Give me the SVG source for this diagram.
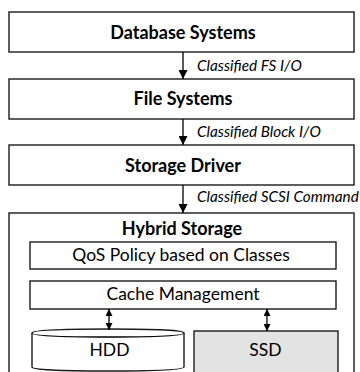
<svg xmlns="http://www.w3.org/2000/svg" width="360" height="372" viewBox="0 0 360 372">
<defs>
<style>
.box{fill:#fff;stroke:#1a1a1a;stroke-width:1.4}
.ssd{fill:#e3e3e3;stroke:#1a1a1a;stroke-width:1.4}
.t{font-family:Lato,"Liberation Sans",sans-serif;font-weight:bold;font-size:18px;fill:#000;text-anchor:middle}
.n{font-family:Lato,"Liberation Sans",sans-serif;font-size:17.5px;fill:#000;text-anchor:middle}
.l{font-family:Lato,"Liberation Sans",sans-serif;font-style:italic;font-size:15.3px;fill:#000}
.c{stroke:#000;stroke-width:1.3;fill:none}
</style>
<marker id="ah" viewBox="0 0 10 10" refX="10" refY="5" markerWidth="9" markerHeight="9" markerUnits="userSpaceOnUse" orient="auto-start-reverse">
<path d="M0,0 L10,5 L0,10 z" fill="#000"/>
</marker>
<marker id="ah2" viewBox="0 0 10 10" refX="10" refY="5" markerWidth="7" markerHeight="7" markerUnits="userSpaceOnUse" orient="auto-start-reverse">
<path d="M0,0 L10,5 L0,10 z" fill="#000"/>
</marker>
</defs>
<rect width="360" height="372" fill="#fff"/>
<g id="db">
<rect class="box" x="9" y="12" width="345" height="40"/>
<text class="t" x="183" y="39">Database Systems</text>
</g>
<g id="fs">
<rect class="box" x="9" y="79" width="345" height="40"/>
<text class="t" x="183" y="105">File Systems</text>
</g>
<g id="sd">
<rect class="box" x="9" y="145" width="345" height="40"/>
<text class="t" x="183" y="172">Storage Driver</text>
</g>
<g id="hybrid">
<rect class="box" x="9" y="213" width="345" height="170"/>
<text class="t" x="182" y="235">Hybrid Storage</text>
</g>
<g id="qos">
<rect class="box" x="30" y="242" width="306" height="27"/>
<text class="n" x="181" y="261">QoS Policy based on Classes</text>
</g>
<g id="cache">
<rect class="box" x="30" y="281" width="306" height="28"/>
<text class="n" x="183" y="300">Cache Management</text>
</g>
<g id="hdd">
<path class="box" d="M32,333 Q32,329 108,329 Q184,329 184,333 L184,367 Q184,371 108,371 Q32,371 32,367 Z"/>
<path class="c" d="M32,333 Q32,337 108,337 Q184,337 184,333" stroke-width="1"/>
<text class="n" x="109.5" y="356">HDD</text>
</g>
<g id="ssd">
<rect class="ssd" x="194" y="331" width="144" height="50"/>
<text class="n" x="265.5" y="356">SSD</text>
</g>
<g id="connectors">
<line class="c" x1="183" y1="52" x2="183" y2="79" marker-end="url(#ah)"/>
<line class="c" x1="183" y1="119" x2="183" y2="145" marker-end="url(#ah)"/>
<line class="c" x1="183" y1="185" x2="183" y2="213" marker-end="url(#ah)"/>
<line class="c" x1="109" y1="309" x2="109" y2="330" marker-start="url(#ah2)" marker-end="url(#ah2)"/>
<line class="c" x1="267" y1="309" x2="267" y2="331" marker-start="url(#ah2)" marker-end="url(#ah2)"/>
<text class="l" x="197" y="71">Classified FS I/O</text>
<text class="l" x="197" y="137">Classified Block I/O</text>
<text class="l" x="197" y="202">Classified SCSI Command</text>
</g>
</svg>
